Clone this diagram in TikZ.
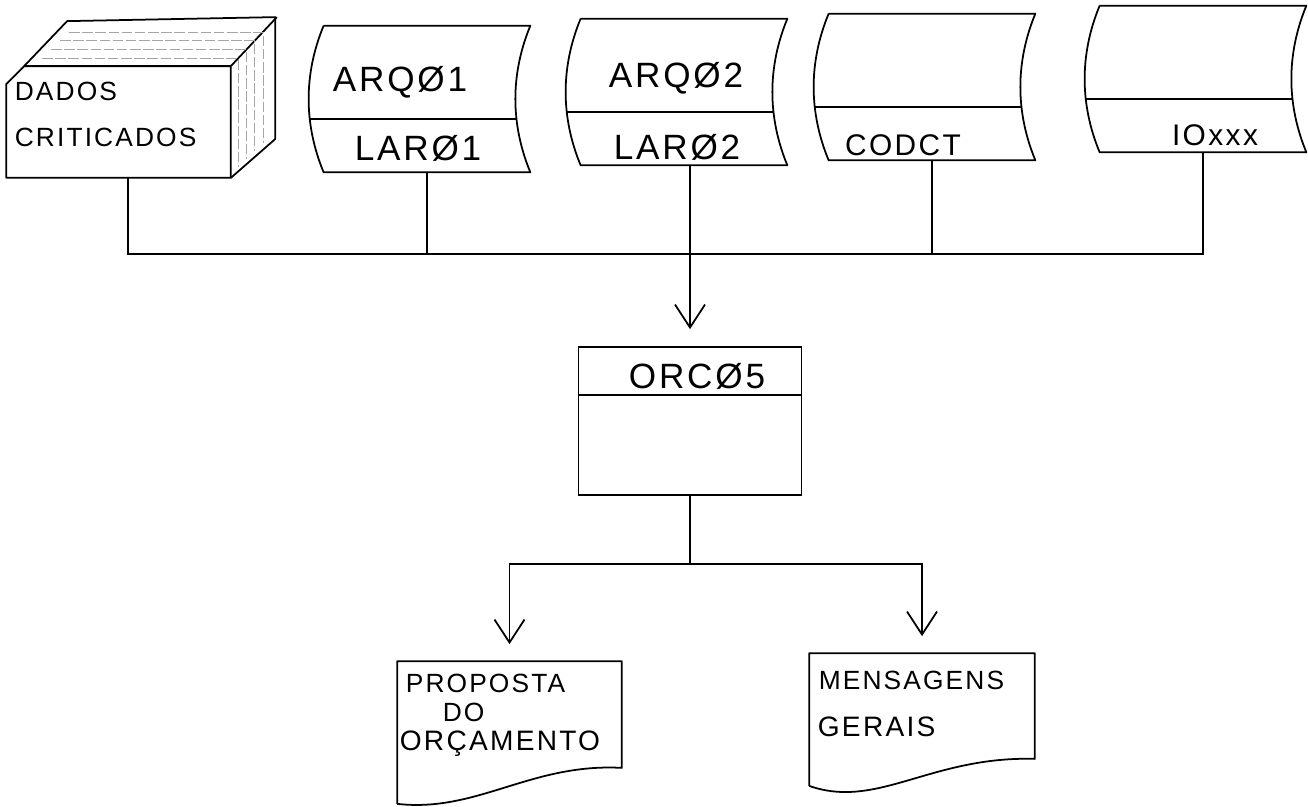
\documentclass[tikz,border=0pt]{standalone}
\usepackage{fontspec}
\setmainfont{Liberation Sans}
\newfontfamily\handfont[LetterSpace=8]{Liberation Sans}
\usetikzlibrary{arrows.meta}

\begin{document}
\begin{tikzpicture}[
    x=0.02cm, y=-0.02cm,
    line width=1pt,
    every node/.style={inner sep=0pt},
    hand/.style={font=\handfont\fontsize{#1}{#1}\selectfont},
    storage/.style={minimum width=4.1cm, minimum height=2.9cm},
    card/.style={line width=0.5pt, gray!70, dash pattern=on 6pt off 1.5pt},
    flow/.style={-{Straight Barb[length=4.6mm,width=6mm]}, shorten >=3.4mm}
  ]
    \fill[white] (0,0) rectangle (1308,807);
    \useasboundingbox (0,0) rectangle (1308,807);

    % Baralho de cartoes
    \node[minimum width=4.46cm, minimum height=2.2cm] (deck) at (118.5,122) {};
    \draw[line join=round] (deck.south west) -- ([yshift=-3.6mm]deck.north west)
      -- ([xshift=3.6mm]deck.north west) -- (deck.north east) -- (deck.south east) -- cycle;
    \draw[line join=round] ([xshift=3.6mm]deck.north west) -- ++(43,-45) -- ++(208,-4)
      -- ++(0,122) -- (deck.south east);
    \draw (deck.north east) -- ++(46,-49);
    \foreach \i in {1,...,4}
      \draw[card] (33+9*\i,67-8.7*\i) -- (230+8.3*\i,67-8.7*\i) -- (230+8.3*\i,175-8*\i);
    \node[hand=15, anchor=west] (dados) at (14,91) {DADOS};
    \node[hand=15, anchor=west] (crit) at (14,137) {CRITICADOS};

    % Arquivos em disco
    \node[storage] (arq1) at (427,99) {};
    \node[storage] (arq2) at (684,92) {};
    \node[storage] (codct) at (932,87) {};
    \node[storage] (ioxxx) at (1203,79) {};
    \foreach \f in {arq1,arq2,codct,ioxxx}{
      \draw[line join=round] (\f.north west) -- (\f.north east)
        .. controls ([xshift=-4mm,yshift=-9.67mm]\f.north east) and ([xshift=-4mm,yshift=9.67mm]\f.south east) .. (\f.south east)
        -- (\f.south west)
        .. controls ([xshift=-4mm,yshift=9.67mm]\f.south west) and ([xshift=-4mm,yshift=-9.67mm]\f.north west) .. (\f.north west);
      \draw ([xshift=-2.8mm,yshift=-4mm]\f.west) -- ([xshift=-2.8mm,yshift=-4mm]\f.east);
    }
    \node[hand=20] (arq1top) at (400,82) {ARQØ1};
    \node[hand=20] (arq1bot) at (418,148) {LARØ1};
    \node[hand=20] (arq2top) at (676,78) {ARQØ2};
    \node[hand=20] (arq2bot) at (677,147) {LARØ2};
    \node[hand=17] (codctbot) at (903,145) {CODCT};
    \node[hand=17] (ioxxxbot) at (1215,135) {IOxxx};

    % Programa
    \node[draw, minimum width=4.46cm, minimum height=2.96cm] (orc) at (690,421) {};
    \draw ([yshift=5.2mm]orc.west) -- ([yshift=5.2mm]orc.east);
    \node[hand=20] (orctxt) at (697,376) {ORCØ5};

    % Relatorios
    \node[minimum width=4.46cm, minimum height=2.46cm] (prop) at (509.5,723.5) {};
    \draw[line join=round] ([yshift=-3.6mm]prop.south west) -- (prop.north west) -- (prop.north east)
      -- ([yshift=3.6mm]prop.south east) .. controls +(-91,-5) and +(80,9) .. ([yshift=-3.6mm]prop.south west);
    \node[hand=15, anchor=west] (prop1) at (405,683) {PROPOSTA};
    \node[hand=15, anchor=west] (prop2) at (442,712) {DO};
    \node[hand=16, anchor=west] (prop3) at (399,744) {ORÇAMENTO};

    \node[minimum width=4.48cm, minimum height=2.36cm] (mens) at (922,713) {};
    \draw[line join=round] ([yshift=-2.6mm]mens.south west) -- (mens.north west) -- (mens.north east)
      -- ([yshift=2.8mm]mens.south east) .. controls +(-104,-3) and +(68,24) .. ([yshift=-2.6mm]mens.south west);
    \node[hand=15, anchor=west] (mens1) at (818,680) {MENSAGENS};
    \node[hand=16, anchor=west] (mens2) at (817,727) {GERAIS};

    % Ligacoes
    \coordinate (bus) at (0,254);
    \draw ([xshift=1.9mm]deck.south) |- (ioxxx.south |- bus) -- (ioxxx.south);
    \foreach \f in {arq1,codct}
      \draw (\f.south) -- (\f.south |- bus);
    \draw[flow] (arq2.south -| orc.north) -- (orc.north);
    \path (orc.south) ++(0,68) coordinate (fork);
    \draw (orc.south) -- (fork);
    \draw[flow] (fork) -| (prop.north);
    \draw[flow] (fork) -| (mens.north);
  \end{tikzpicture}
\end{document}
